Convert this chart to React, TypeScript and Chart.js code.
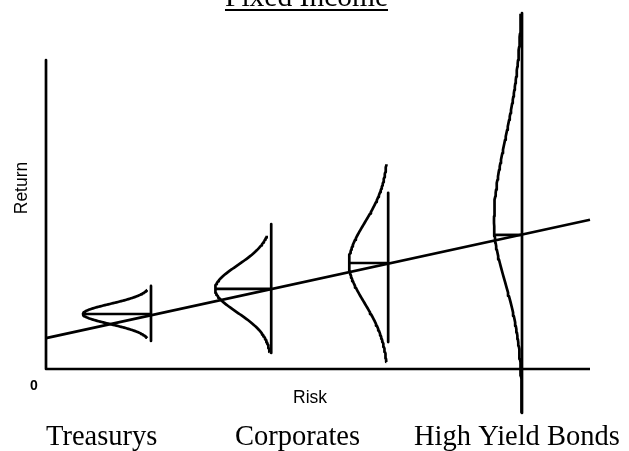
import React, { useEffect, useRef } from "react";
import { Chart, registerables } from "chart.js";

Chart.register(...registerables);

// ---- data (risk on x, return on y, both 0..100 axis units) ----
const titleText = "Fixed Income";
const xAxisTitle = "Risk";
const yAxisTitle = "Return";
const originLabel = "0";
const categoryLabels = ["Treasurys", "Corporates", "High Yield Bonds"];

// risk position of each distribution (its vertical line)
const assetRisk = [19.3, 41.4, 62.9, 87.5];
// expected return (point on the risk/return line)
const expectedReturn = [17.8, 25.9, 34.3, 43.4];
// centre of each drawn bell curve
const curveCentre = [17.8, 25.9, 34.3, 47.6];
// spread of returns above / below the centre
const spreadUp = [3.24, 7.6, 12.9, 26.5];
const spreadDown = [3.24, 7.6, 12.9, 19.4];
// drawn height of each bell (in risk units)
const bellHeight = [12.5, 10.3, 7.2, 5.15];
// vertical extent of each curve
const curveTop = [25.6, 43.1, 66.3, 115];
const curveBottom = [10.0, 5.5, 2.3, -14];
// vertical extent of each distribution's axis line
const lineTop = [26.9, 46.9, 57.0, 115.2];
const lineBottom = [9.1, 5.2, 8.7, -14.2];

// risk / return trade-off line
const trendRisk = [0, 100];
const trendReturn = [10.0, 48.3];

// axes
const axisRisk = [0, 0, 100];
const axisReturn = [100, 0, 0];

const STEPS = 120;

function bellX(i: number, y: number) {
  const s = y >= curveCentre[i] ? spreadUp[i] : spreadDown[i];
  const d = (y - curveCentre[i]) / s;
  return assetRisk[i] - bellHeight[i] * Math.exp(-0.5 * d * d);
}

function bell(i: number) {
  const pts: { x: number; y: number }[] = [];
  for (let k = 0; k <= STEPS; k++) {
    const y = curveBottom[i] + ((curveTop[i] - curveBottom[i]) * k) / STEPS;
    pts.push({ x: bellX(i, y), y });
  }
  return pts;
}

function meanBar(i: number) {
  return [
    { x: bellX(i, expectedReturn[i]), y: expectedReturn[i] },
    { x: assetRisk[i], y: expectedReturn[i] },
  ];
}

const lineStyle = {
  showLine: true,
  borderColor: "#000",
  borderWidth: 2.7,
  borderJoinStyle: "round" as const,
  borderCapStyle: "butt" as const,
  pointRadius: 0,
  pointHoverRadius: 0,
  tension: 0,
  fill: false,
  clip: false as any,
};

const textPlugin = {
  id: "texts",
  afterDraw(chart: any) {
    const ctx = chart.ctx as CanvasRenderingContext2D;
    ctx.save();
    ctx.fillStyle = "#000";
    ctx.strokeStyle = "#000";

    // title, underlined
    ctx.font = "29.5px 'Liberation Serif', 'Times New Roman', serif";
    ctx.textAlign = "center";
    ctx.textBaseline = "alphabetic";
    const tx = 306.5;
    const ty = 6;
    ctx.fillText(titleText, tx, ty);
    const tw = ctx.measureText(titleText).width;
    ctx.lineWidth = 2.2;
    ctx.beginPath();
    ctx.moveTo(tx - tw / 2, 10);
    ctx.lineTo(tx + tw / 2, 10);
    ctx.stroke();

    // y axis title
    ctx.save();
    ctx.translate(22, 188);
    ctx.rotate(-Math.PI / 2);
    ctx.font = "17.5px 'Liberation Sans', Arial, sans-serif";
    ctx.textAlign = "center";
    ctx.textBaseline = "middle";
    ctx.fillText(yAxisTitle, 0, 0);
    ctx.restore();

    // origin label
    ctx.font = "bold 14px 'Liberation Sans', Arial, sans-serif";
    ctx.textAlign = "center";
    ctx.textBaseline = "middle";
    ctx.fillText(originLabel, 34, 386);

    // x axis title
    ctx.font = "17.5px 'Liberation Sans', Arial, sans-serif";
    ctx.fillText(xAxisTitle, 310, 398);

    // category labels
    ctx.font = "28.5px 'Liberation Serif', 'Times New Roman', serif";
    ctx.textAlign = "left";
    ctx.textBaseline = "alphabetic";
    const lx = [46, 235, 414];
    categoryLabels.forEach((t, i) => ctx.fillText(t, lx[i], 445));

    ctx.restore();
  },
};

export default function App() {
  const ref = useRef<HTMLCanvasElement | null>(null);

  useEffect(() => {
    if (!ref.current) return;
    const datasets: any[] = [];
    datasets.push({
      ...lineStyle,
      data: axisRisk.map((x, i) => ({ x, y: axisReturn[i] })),
    });
    datasets.push({
      ...lineStyle,
      data: trendRisk.map((x, i) => ({ x, y: trendReturn[i] })),
    });
    assetRisk.forEach((r, i) => {
      datasets.push({ ...lineStyle, data: bell(i) });
      datasets.push({
        ...lineStyle,
        data: [
          { x: r, y: lineTop[i] },
          { x: r, y: lineBottom[i] },
        ],
      });
      datasets.push({ ...lineStyle, data: meanBar(i) });
    });

    const chart = new Chart(ref.current, {
      type: "scatter",
      data: { datasets },
      options: {
        animation: false,
        responsive: true,
        maintainAspectRatio: false,
        layout: { padding: { left: 46, right: 39, top: 60, bottom: 82 } },
        plugins: {
          legend: { display: false },
          tooltip: { enabled: false },
          title: { display: false },
        },
        events: [],
        scales: {
          x: { type: "linear", min: 0, max: 100, display: false },
          y: { type: "linear", min: 0, max: 100, display: false },
        },
      },
      plugins: [textPlugin],
    });
    return () => chart.destroy();
  }, []);

  return (
    <div
      style={{
        position: "fixed",
        left: 0,
        top: 0,
        width: 629,
        height: 451,
        background: "#fff",
      }}
    >
      <canvas ref={ref} />
    </div>
  );
}
